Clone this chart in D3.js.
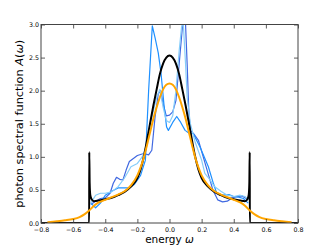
<!DOCTYPE html>
<html><head><meta charset="utf-8">
<script src="https://cdn.jsdelivr.net/npm/d3@7"></script>
<style>
html,body{margin:0;padding:0;background:#fff;}
svg{display:block;font-family:"DejaVu Sans",sans-serif;}
</style></head>
<body><svg id="c" width="332" height="249"></svg>
<script>
// ---- data ----
const xTicks = [-0.8,-0.6,-0.4,-0.2,0.0,0.2,0.4,0.6,0.8];
const yTicks = [0.0,0.5,1.0,1.5,2.0,2.5,3.0];

const blackOmega = [-0.8,-0.5001,-0.4995,-0.497,-0.493,-0.485,-0.47,-0.44,-0.40,-0.36,-0.32,-0.28,-0.24,-0.20,-0.18,-0.16,-0.14,-0.12,-0.10,-0.08,-0.06,-0.04,-0.02,0,0.02,0.04,0.06,0.08,0.10,0.12,0.14,0.16,0.18,0.20,0.24,0.28,0.32,0.36,0.40,0.44,0.47,0.485,0.493,0.497,0.4995,0.5001,0.8];
const blackA = [0,0,1.07,0.6,0.42,0.36,0.33,0.34,0.36,0.38,0.42,0.47,0.55,0.68,0.81,1.0,1.25,1.52,1.78,2.02,2.25,2.41,2.50,2.53,2.50,2.41,2.25,2.02,1.78,1.52,1.25,1.0,0.81,0.68,0.55,0.47,0.42,0.38,0.36,0.34,0.33,0.36,0.42,0.6,1.07,0,0];

const orangeOmega = [-0.76,-0.70,-0.65,-0.60,-0.56,-0.53,-0.50,-0.47,-0.44,-0.40,-0.36,-0.32,-0.28,-0.24,-0.20,-0.18,-0.16,-0.14,-0.12,-0.10,-0.08,-0.06,-0.04,-0.02,0,0.02,0.04,0.06,0.08,0.10,0.12,0.14,0.16,0.18,0.20,0.24,0.28,0.32,0.36,0.40,0.44,0.47,0.50,0.53,0.56,0.60,0.65,0.70,0.76];
const orangeA = [0.01,0.025,0.04,0.06,0.09,0.13,0.19,0.26,0.31,0.35,0.39,0.43,0.48,0.57,0.72,0.84,0.99,1.18,1.38,1.58,1.75,1.90,2.02,2.09,2.11,2.09,2.02,1.90,1.75,1.58,1.38,1.18,0.99,0.84,0.72,0.57,0.48,0.43,0.39,0.35,0.31,0.26,0.19,0.13,0.09,0.06,0.04,0.025,0.01];

const darkOmega = [-0.49,-0.46,-0.43,-0.40,-0.37,-0.35,-0.33,-0.31,-0.29,-0.27,-0.25,-0.20,-0.16,-0.13,-0.11,-0.09,-0.07,-0.055,-0.04,-0.02,0.0,0.02,0.04,0.06,0.08,0.09,0.10,0.11,0.12,0.13,0.15,0.18,0.21,0.24,0.27,0.30,0.33,0.36,0.39,0.42,0.45,0.47,0.49];
const darkA = [0.28,0.33,0.37,0.38,0.45,0.60,0.69,0.66,0.65,0.80,0.93,1.02,1.05,1.03,1.10,1.60,1.95,2.00,1.80,1.62,1.63,1.68,1.85,2.40,2.95,3.25,3.00,2.40,1.70,1.40,1.35,1.25,1.00,0.75,0.50,0.35,0.32,0.33,0.38,0.40,0.41,0.38,0.35];

const midOmega = [-0.49,-0.46,-0.43,-0.40,-0.36,-0.32,-0.28,-0.25,-0.22,-0.18,-0.15,-0.13,-0.107,-0.09,-0.07,-0.053,-0.035,-0.018,-0.007,0.02,0.045,0.07,0.097,0.12,0.148,0.19,0.242,0.273,0.294,0.33,0.37,0.40,0.43,0.46,0.49];
const midA = [0.30,0.23,0.30,0.42,0.48,0.53,0.53,0.53,0.58,0.72,0.95,2.00,2.98,2.80,2.57,2.27,1.80,1.45,1.40,1.52,1.61,1.52,1.40,1.36,1.35,1.15,0.85,0.60,0.45,0.42,0.43,0.40,0.39,0.37,0.30];

const lightOmega = [-0.49,-0.46,-0.43,-0.40,-0.36,-0.32,-0.28,-0.24,-0.20,-0.17,-0.14,-0.11,-0.08,-0.06,-0.04,-0.02,0.0,0.02,0.04,0.06,0.075,0.085,0.10,0.11,0.13,0.16,0.20,0.22,0.25,0.28,0.32,0.36,0.40,0.44,0.47,0.49];
const lightA = [0.30,0.42,0.45,0.45,0.47,0.55,0.68,0.85,0.90,1.00,1.20,1.60,1.90,2.02,1.75,1.55,1.52,1.62,2.00,2.60,2.96,3.05,2.40,1.90,1.50,1.22,0.95,0.75,0.66,0.55,0.48,0.42,0.40,0.42,0.40,0.35];

// ---- layout ----
const L = 41, R = 298, T = 24.5, B = 223;
const svg = d3.select("#c");
const x = d3.scaleLinear().domain([-0.8,0.8]).range([L,R]);
const y = d3.scaleLinear().domain([0,3]).range([B,T]);

svg.append("defs").append("clipPath").attr("id","clip")
  .append("rect").attr("x",L).attr("y",T).attr("width",R-L).attr("height",B-T);

const g = svg.append("g").attr("clip-path","url(#clip)");
function series(om, A, color, width, curve){
  const pts = om.map((o,i)=>[o,A[i]]);
  g.append("path").datum(pts)
    .attr("fill","none").attr("stroke",color).attr("stroke-width",width)
    .attr("stroke-linejoin","round")
    .attr("d", d3.line().x(d=>x(d[0])).y(d=>y(d[1])).curve(curve));
}
series(darkOmega, darkA, "#4169e1", 1.2, d3.curveLinear);
series(midOmega, midA, "#1e90ff", 1.2, d3.curveLinear);
series(lightOmega, lightA, "#87cefa", 1.2, d3.curveLinear);
series(blackOmega, blackA, "#000000", 2, d3.curveMonotoneX);
series(orangeOmega, orangeA, "#ffa500", 2, d3.curveMonotoneX);

// ---- axes ----
const fmt = d3.format(".1f");
function style(sel){
  sel.select(".domain").remove();
  sel.selectAll(".tick line").attr("stroke","#333").attr("stroke-width",0.8);
  sel.selectAll(".tick text").attr("font-size",6.3).attr("fill","#000")
     .attr("font-family","DejaVu Sans, sans-serif");
}
svg.append("g").attr("transform",`translate(0,${B})`)
  .call(d3.axisBottom(x).tickValues(xTicks).tickFormat(fmt).tickSize(-4).tickPadding(4.6)).call(style);
svg.append("g").attr("transform",`translate(0,${T})`)
  .call(d3.axisTop(x).tickValues(xTicks).tickFormat("").tickSize(-4)).call(style);
svg.append("g").attr("transform",`translate(${L},0)`)
  .call(d3.axisLeft(y).tickValues(yTicks).tickFormat(fmt).tickSize(-4).tickPadding(2)).call(style);
svg.append("g").attr("transform",`translate(${R},0)`)
  .call(d3.axisRight(y).tickValues(yTicks).tickFormat("").tickSize(-4)).call(style);

svg.append("rect").attr("x",L).attr("y",T).attr("width",R-L).attr("height",B-T)
  .attr("fill","none").attr("stroke","#444").attr("stroke-width",1);

// ---- labels ----
const xl = svg.append("text").attr("x",(L+R)/2).attr("y",242.5)
  .attr("text-anchor","middle").attr("font-size",10.5).attr("fill","#000");
xl.append("tspan").text("energy ");
xl.append("tspan").attr("font-style","italic").text("ω");

const yl = svg.append("text").attr("transform",`translate(22.5,${(T+B)/2}) rotate(-90)`)
  .attr("text-anchor","middle").attr("font-size",11.3).attr("fill","#000");
yl.append("tspan").text("photon spectral function ");
yl.append("tspan").attr("font-style","italic").text("A");
yl.append("tspan").text("(");
yl.append("tspan").attr("font-style","italic").text("ω");
yl.append("tspan").text(")");
</script>
</body></html>
